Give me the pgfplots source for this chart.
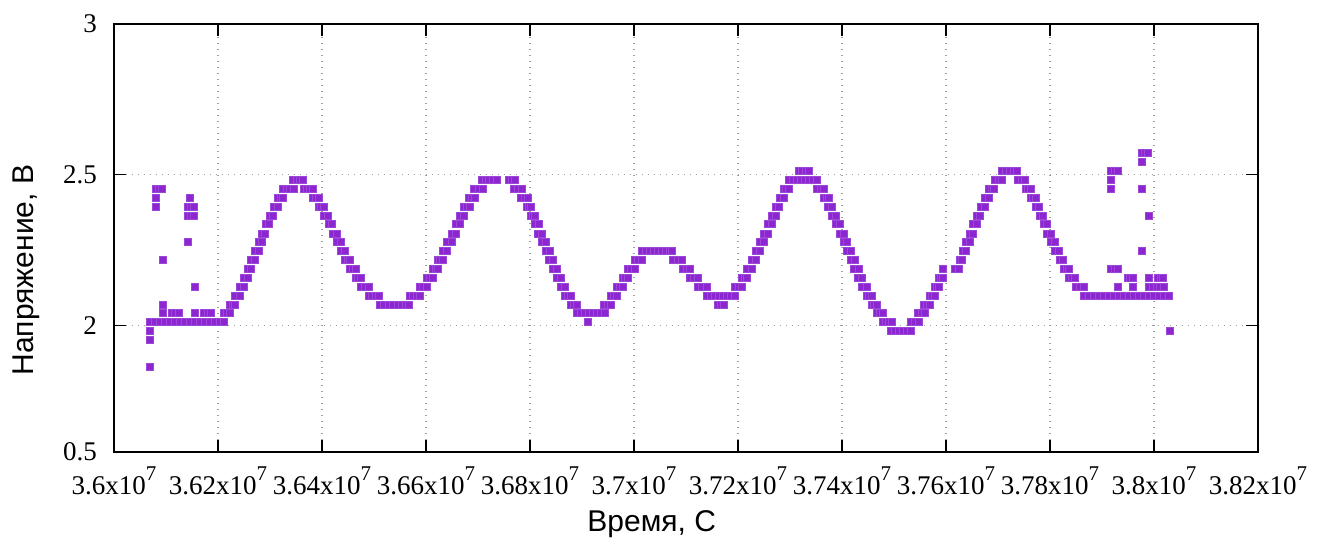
\documentclass[border=0pt]{standalone}
\usepackage{fontspec}
\setmainfont{Liberation Serif}
\setsansfont{Liberation Sans}
\usepackage{pgfplots}
\pgfplotsset{compat=1.18}
\definecolor{purp}{RGB}{139,38,208}
\newcommand{\sev}{\raisebox{7pt}{\fontsize{10.5}{10.5}\selectfont 7}}
\begin{document}
\begin{tikzpicture}
\begin{axis}[
  scale only axis, width=572pt, height=214pt,
  xmin=3.6e7, xmax=3.82e7, ymin=1.579, ymax=3,
  scaled x ticks=false, scaled y ticks=false,
  xtick={3.6e7,3.62e7,3.64e7,3.66e7,3.68e7,3.7e7,3.72e7,3.74e7,3.76e7,3.78e7,3.8e7,3.82e7},
  xticklabels={3.6x10\sev,3.62x10\sev,3.64x10\sev,3.66x10\sev,3.68x10\sev,3.7x10\sev,3.72x10\sev,3.74x10\sev,3.76x10\sev,3.78x10\sev,3.8x10\sev,3.82x10\sev},
  ytick={1.579,2,2.5,3}, yticklabels={0.5,2,2.5,3},
  tick label style={font=\fontsize{13.5}{16}\selectfont},
  xticklabel style={anchor=base, yshift=-21.5pt},
  yticklabel style={xshift=-5pt},
  grid=major,
  major grid style={gray!75, line width=0.6pt, dash pattern=on 0.7pt off 2.3pt},
  tick align=inside, tick pos=both, major tick length=6pt,
  tick style={black, line width=0.6pt},
  axis line style={black, line width=1pt},
  label style={font=\sffamily\fontsize{15}{18}\selectfont},
  xlabel={Время, С},
  ylabel={Напряжение, В},
  xlabel style={at={([yshift=-39.8pt]axis description cs:0.47,0)}, anchor=base},
  ylabel style={at={([xshift=-40.3pt]axis description cs:0,0.425)}, anchor=base},
]
\addplot[only marks, mark=square*, mark size=1.75pt,
  mark options={draw=purp!85, fill=purp, line width=0.3pt}] coordinates {
% start of record, noisy values
(3.60692e7,1.863) (3.60692e7,1.951) (3.60692e7,1.981)
(3.60692e7,2.010) (3.60788e7,2.010) (3.60885e7,2.010) (3.60981e7,2.010) (3.61077e7,2.010) (3.61173e7,2.010) (3.61269e7,2.010) (3.61365e7,2.010)
(3.61462e7,2.010) (3.61558e7,2.010) (3.61654e7,2.010) (3.61750e7,2.010) (3.61846e7,2.010) (3.61942e7,2.010) (3.62038e7,2.010) (3.62115e7,2.010)
(3.60937e7,2.040) (3.61112e7,2.040) (3.61173e7,2.040) (3.61240e7,2.040) (3.61558e7,2.040) (3.61731e7,2.040) (3.61798e7,2.040) (3.61865e7,2.040)
(3.60937e7,2.069) (3.60937e7,2.217)
(3.60808e7,2.453) (3.60865e7,2.453) (3.60923e7,2.453)
(3.60808e7,2.423) (3.61458e7,2.423)
(3.60808e7,2.394) (3.61423e7,2.394) (3.61481e7,2.394) (3.61538e7,2.394)
(3.61423e7,2.364) (3.61481e7,2.364) (3.61538e7,2.364)
(3.61417e7,2.276) (3.61552e7,2.128)
% first wave
(3.62119e7,2.040) (3.62173e7,2.040) (3.62227e7,2.040)
(3.62235e7,2.069) (3.62283e7,2.069) (3.62331e7,2.069)
(3.62331e7,2.099) (3.62419e7,2.099)
(3.62427e7,2.128) (3.62496e7,2.128)
(3.62504e7,2.158) (3.62567e7,2.158)
(3.62573e7,2.187) (3.62638e7,2.187)
(3.62638e7,2.217) (3.62702e7,2.217)
(3.62715e7,2.246) (3.62779e7,2.246)
(3.62779e7,2.276) (3.62842e7,2.276)
(3.62850e7,2.305) (3.62908e7,2.305)
(3.62919e7,2.335) (3.62977e7,2.335)
(3.62990e7,2.364) (3.63054e7,2.364)
(3.63067e7,2.394) (3.63144e7,2.394)
(3.63150e7,2.423) (3.63202e7,2.423) (3.63254e7,2.423)
(3.63246e7,2.453) (3.63317e7,2.453) (3.63385e7,2.453) (3.63458e7,2.453)
(3.63438e7,2.482) (3.63506e7,2.482) (3.63573e7,2.482) (3.63638e7,2.482)
(3.63644e7,2.453) (3.63702e7,2.453) (3.63760e7,2.453) (3.63817e7,2.453)
(3.63823e7,2.423) (3.63881e7,2.423) (3.63938e7,2.423)
(3.63933e7,2.394) (3.63981e7,2.394) (3.64029e7,2.394)
(3.64042e7,2.364) (3.64112e7,2.364)
(3.64125e7,2.335) (3.64196e7,2.335)
(3.64208e7,2.305) (3.64279e7,2.305)
(3.64285e7,2.276) (3.64362e7,2.276)
(3.64362e7,2.246) (3.64438e7,2.246)
(3.64446e7,2.217) (3.64490e7,2.217) (3.64535e7,2.217)
(3.64542e7,2.187) (3.64596e7,2.187) (3.64650e7,2.187)
(3.64644e7,2.158) (3.64696e7,2.158) (3.64746e7,2.158)
(3.64754e7,2.128) (3.64823e7,2.128) (3.64894e7,2.128)
(3.64900e7,2.099) (3.64967e7,2.099) (3.65035e7,2.099) (3.65100e7,2.099)
(3.65106e7,2.069) (3.65192e7,2.069) (3.65279e7,2.069) (3.65365e7,2.069) (3.65452e7,2.069) (3.65539e7,2.069) (3.65615e7,2.069) (3.65677e7,2.069)
% second wave
(3.65683e7,2.099) (3.65750e7,2.099) (3.65817e7,2.099) (3.65881e7,2.099)
(3.65875e7,2.128) (3.65942e7,2.128) (3.66010e7,2.128)
(3.66015e7,2.158) (3.66071e7,2.158) (3.66125e7,2.158)
(3.66131e7,2.187) (3.66179e7,2.187) (3.66227e7,2.187)
(3.66221e7,2.217) (3.66269e7,2.217) (3.66317e7,2.217)
(3.66323e7,2.246) (3.66400e7,2.246)
(3.66408e7,2.276) (3.66490e7,2.276)
(3.66490e7,2.305) (3.66567e7,2.305)
(3.66567e7,2.335) (3.66658e7,2.335)
(3.66658e7,2.364) (3.66735e7,2.364)
(3.66735e7,2.394) (3.66789e7,2.394) (3.66837e7,2.394)
(3.66831e7,2.423) (3.66885e7,2.423) (3.66933e7,2.423)
(3.66927e7,2.453) (3.67006e7,2.453) (3.67087e7,2.453)
(3.67073e7,2.482) (3.67144e7,2.482) (3.67217e7,2.482) (3.67289e7,2.482) (3.67362e7,2.482)
(3.67600e7,2.482) (3.67654e7,2.482) (3.67702e7,2.482)
(3.67696e7,2.453) (3.67769e7,2.453) (3.67842e7,2.453)
(3.67831e7,2.423) (3.67891e7,2.423) (3.67952e7,2.423)
(3.67933e7,2.394) (3.67981e7,2.394) (3.68023e7,2.394)
(3.68010e7,2.364) (3.68058e7,2.364) (3.68100e7,2.364)
(3.68087e7,2.335) (3.68164e7,2.335)
(3.68158e7,2.305) (3.68235e7,2.305)
(3.68235e7,2.276) (3.68304e7,2.276)
(3.68304e7,2.246) (3.68381e7,2.246)
(3.68369e7,2.217) (3.68446e7,2.217)
(3.68439e7,2.187) (3.68516e7,2.187)
(3.68516e7,2.158) (3.68592e7,2.158)
(3.68592e7,2.128) (3.68677e7,2.128)
(3.68677e7,2.099) (3.68731e7,2.099) (3.68779e7,2.099)
(3.68785e7,2.069) (3.68839e7,2.069) (3.68894e7,2.069)
(3.68894e7,2.040) (3.68971e7,2.040) (3.69048e7,2.040) (3.69125e7,2.040) (3.69202e7,2.040) (3.69279e7,2.040) (3.69356e7,2.040) (3.69439e7,2.040)
(3.69110e7,2.010)
% small middle wave
(3.69427e7,2.069) (3.69490e7,2.069) (3.69554e7,2.069)
(3.69554e7,2.099) (3.69616e7,2.099) (3.69677e7,2.099)
(3.69677e7,2.128) (3.69731e7,2.128) (3.69785e7,2.128)
(3.69779e7,2.158) (3.69831e7,2.158) (3.69881e7,2.158)
(3.69881e7,2.187) (3.69946e7,2.187) (3.70010e7,2.187)
(3.70010e7,2.217) (3.70081e7,2.217) (3.70150e7,2.217)
(3.70158e7,2.246) (3.70231e7,2.246) (3.70308e7,2.246) (3.70385e7,2.246) (3.70462e7,2.246) (3.70539e7,2.246) (3.70616e7,2.246) (3.70692e7,2.246) (3.70735e7,2.246)
(3.70741e7,2.217) (3.70833e7,2.217) (3.70927e7,2.217)
(3.70933e7,2.187) (3.71006e7,2.187) (3.71081e7,2.187)
(3.71081e7,2.158) (3.71154e7,2.158) (3.71221e7,2.158)
(3.71227e7,2.128) (3.71308e7,2.128) (3.71394e7,2.128)
(3.71400e7,2.099) (3.71481e7,2.099) (3.71558e7,2.099) (3.71635e7,2.099) (3.71712e7,2.099) (3.71789e7,2.099) (3.71866e7,2.099) (3.71939e7,2.099)
(3.71612e7,2.069) (3.71669e7,2.069) (3.71727e7,2.069)
% third wave
(3.71946e7,2.128) (3.72010e7,2.128) (3.72073e7,2.128)
(3.72067e7,2.158) (3.72121e7,2.158) (3.72177e7,2.158)
(3.72177e7,2.187) (3.72260e7,2.187)
(3.72266e7,2.217) (3.72342e7,2.217)
(3.72350e7,2.246) (3.72414e7,2.246)
(3.72427e7,2.276) (3.72491e7,2.276)
(3.72496e7,2.305) (3.72567e7,2.305)
(3.72567e7,2.335) (3.72644e7,2.335)
(3.72644e7,2.364) (3.72721e7,2.364)
(3.72721e7,2.394) (3.72792e7,2.394)
(3.72798e7,2.423) (3.72875e7,2.423)
(3.72875e7,2.453) (3.72923e7,2.453) (3.72977e7,2.453)
(3.72971e7,2.482) (3.73048e7,2.482) (3.73125e7,2.482) (3.73202e7,2.482) (3.73279e7,2.482) (3.73356e7,2.482) (3.73433e7,2.482) (3.73523e7,2.482)
(3.73164e7,2.512) (3.73231e7,2.512) (3.73298e7,2.512) (3.73362e7,2.512)
(3.73523e7,2.453) (3.73587e7,2.453) (3.73650e7,2.453)
(3.73650e7,2.423) (3.73698e7,2.423) (3.73746e7,2.423)
(3.73727e7,2.394) (3.73812e7,2.394)
(3.73804e7,2.364) (3.73881e7,2.364)
(3.73875e7,2.335) (3.73958e7,2.335)
(3.73952e7,2.305) (3.74029e7,2.305)
(3.74029e7,2.276) (3.74100e7,2.276)
(3.74092e7,2.246) (3.74177e7,2.246)
(3.74164e7,2.217) (3.74246e7,2.217)
(3.74235e7,2.187) (3.74317e7,2.187)
(3.74304e7,2.158) (3.74389e7,2.158)
(3.74389e7,2.128) (3.74477e7,2.128)
(3.74471e7,2.099) (3.74519e7,2.099) (3.74567e7,2.099)
(3.74567e7,2.069) (3.74619e7,2.069) (3.74669e7,2.069)
(3.74669e7,2.040) (3.74731e7,2.040) (3.74792e7,2.040)
(3.74785e7,2.010) (3.74846e7,2.010) (3.74904e7,2.010) (3.74958e7,2.010)
(3.74939e7,1.981) (3.75010e7,1.981) (3.75087e7,1.981) (3.75164e7,1.981) (3.75241e7,1.981) (3.75317e7,1.981)
(3.75317e7,2.010) (3.75394e7,2.010) (3.75471e7,2.010)
(3.75466e7,2.040) (3.75525e7,2.040) (3.75587e7,2.040)
(3.75581e7,2.069) (3.75635e7,2.069) (3.75689e7,2.069)
(3.75683e7,2.099) (3.75731e7,2.099) (3.75779e7,2.099)
(3.75779e7,2.128) (3.75827e7,2.128) (3.75869e7,2.128)
(3.75862e7,2.158) (3.75904e7,2.158) (3.75946e7,2.158)
(3.75942e7,2.187)
% fourth wave
(3.76177e7,2.187) (3.76254e7,2.187)
(3.76260e7,2.217) (3.76312e7,2.217)
(3.76317e7,2.246) (3.76381e7,2.246)
(3.76389e7,2.276) (3.76458e7,2.276)
(3.76452e7,2.305) (3.76523e7,2.305)
(3.76516e7,2.335) (3.76592e7,2.335)
(3.76592e7,2.364) (3.76658e7,2.364)
(3.76664e7,2.394) (3.76741e7,2.394)
(3.76741e7,2.423) (3.76818e7,2.423)
(3.76831e7,2.453) (3.76875e7,2.453) (3.76919e7,2.453)
(3.76933e7,2.482) (3.77006e7,2.482) (3.77081e7,2.482)
(3.77081e7,2.512) (3.77154e7,2.512) (3.77231e7,2.512) (3.77300e7,2.512) (3.77369e7,2.512)
(3.77381e7,2.482) (3.77452e7,2.482) (3.77523e7,2.482)
(3.77529e7,2.453) (3.77577e7,2.453) (3.77625e7,2.453)
(3.77631e7,2.423) (3.77677e7,2.423) (3.77721e7,2.423)
(3.77721e7,2.394) (3.77793e7,2.394)
(3.77804e7,2.364) (3.77869e7,2.364)
(3.77875e7,2.335) (3.77939e7,2.335)
(3.77946e7,2.305) (3.78010e7,2.305)
(3.78023e7,2.276) (3.78093e7,2.276)
(3.78100e7,2.246) (3.78169e7,2.246)
(3.78183e7,2.217) (3.78254e7,2.217)
(3.78273e7,2.187) (3.78321e7,2.187) (3.78370e7,2.187)
(3.78370e7,2.158) (3.78427e7,2.158) (3.78485e7,2.158)
(3.78491e7,2.128) (3.78573e7,2.128) (3.78658e7,2.128)
(3.78658e7,2.099) (3.78750e7,2.099) (3.78846e7,2.099) (3.78943e7,2.099) (3.79039e7,2.099) (3.79135e7,2.099) (3.79231e7,2.099) (3.79327e7,2.099) (3.79423e7,2.099)
(3.79520e7,2.099) (3.79616e7,2.099) (3.79712e7,2.099) (3.79808e7,2.099) (3.79904e7,2.099) (3.80000e7,2.099) (3.80096e7,2.099) (3.80193e7,2.099) (3.80293e7,2.099)
% end of record, noisy values
(3.79766e7,2.571) (3.79827e7,2.571) (3.79889e7,2.571)
(3.79764e7,2.541)
(3.79177e7,2.512) (3.79237e7,2.512) (3.79298e7,2.512)
(3.79173e7,2.482) (3.79173e7,2.453) (3.79764e7,2.453)
(3.79891e7,2.364) (3.79764e7,2.246)
(3.79177e7,2.187) (3.79237e7,2.187) (3.79298e7,2.187)
(3.79491e7,2.158) (3.79539e7,2.158) (3.79587e7,2.158) (3.79898e7,2.158) (3.80073e7,2.158) (3.80125e7,2.158) (3.80177e7,2.158)
(3.79308e7,2.128) (3.79591e7,2.128) (3.79908e7,2.128) (3.79981e7,2.128) (3.80048e7,2.128) (3.80116e7,2.128) (3.80189e7,2.128)
(3.80295e7,1.981)
};
\end{axis}
\pgfresetboundingbox
\path ([shift={(-57pt,-43pt)}]current axis.south west) rectangle ([shift={(31pt,12pt)}]current axis.north east);
\end{tikzpicture}
\end{document}
